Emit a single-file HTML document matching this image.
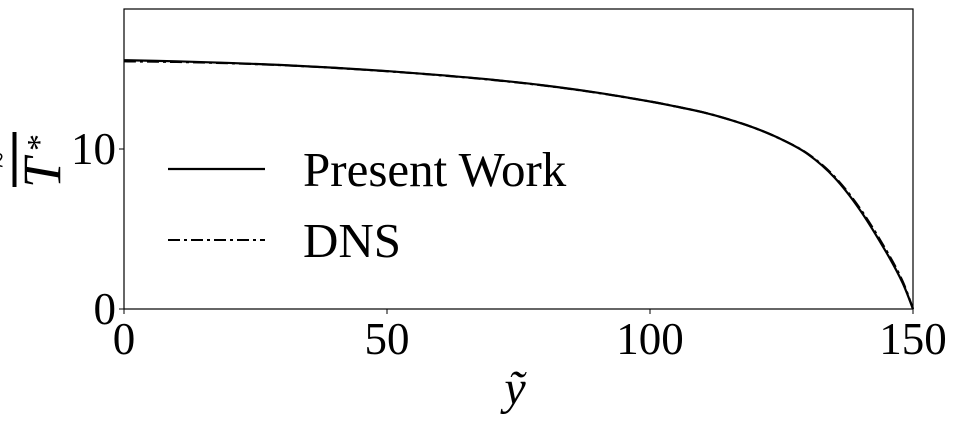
<!DOCTYPE html>
<html><head><meta charset="utf-8"><style>
body{margin:0;background:#fff;}
svg text{font-family:"Liberation Serif",serif;fill:#000;}
</style></head><body>
<svg width="954" height="417" id="c">
<rect x="124" y="9" width="789" height="300" fill="none" stroke="#000" stroke-width="1.2"/>
<g id="ticks"></g>
<g id="series"></g>
<text x="515" y="404" font-size="48" font-style="italic" text-anchor="middle">ỹ</text>
<g transform="translate(38,162) rotate(-90)">
<line x1="-25" y1="-23.5" x2="30" y2="-23.5" stroke="#000" stroke-width="4"/>
<text x="-6" y="-28" font-size="30">~</text>
<text x="-26" y="22" font-size="54" font-style="italic">T</text>
<text x="11" y="12" font-size="34">*</text>
</g>
<g>
<line x1="168" y1="169" x2="265" y2="169" stroke="#000" stroke-width="2.2"/>
<text x="303" y="186" font-size="49">Present Work</text>
<line x1="168" y1="240" x2="265" y2="240" stroke="#000" stroke-width="2" stroke-dasharray="12,4,3,4"/>
<text x="303" y="257" font-size="49">DNS</text>
</g>
</svg>
<script>
const xTicks=[0,50,100,150];
const yTicks=[0,10];
const yPos=[0,10,20,30,40,50,60,70,80,90,100,105,110,115,120,125,130,135,140,145,148,150];
const presentT=[15.55,15.48,15.38,15.25,15.08,14.87,14.62,14.33,13.97,13.52,12.97,12.65,12.3,11.85,11.3,10.6,9.68,8.24,6.15,3.5,1.65,0];
const dnsT=[15.48,15.44,15.36,15.24,15.07,14.86,14.61,14.32,13.96,13.51,12.97,12.65,12.3,11.85,11.3,10.6,9.7,8.3,6.25,3.62,1.75,0];
const X=v=>124+v*(789/150);
const Y=v=>309-v*16;
const NS="http://www.w3.org/2000/svg";
const tg=document.getElementById('ticks');
xTicks.forEach(t=>{
 const l=document.createElementNS(NS,'line');
 l.setAttribute('x1',X(t));l.setAttribute('x2',X(t));l.setAttribute('y1',309);l.setAttribute('y2',314);l.setAttribute('stroke','#000');
 
 
 tg.appendChild(l);
 const tx=document.createElementNS(NS,'text');
 tx.setAttribute('x',X(t));tx.setAttribute('y',354);tx.setAttribute('font-size','45');tx.setAttribute('text-anchor','middle');
 tx.textContent=t;
 
 
 tg.appendChild(tx);
});
yTicks.forEach(t=>{
 const l=document.createElementNS(NS,'line');
 l.setAttribute('x1',119);l.setAttribute('x2',124);l.setAttribute('y1',Y(t));l.setAttribute('y2',Y(t));l.setAttribute('stroke','#000');
 
 
 tg.appendChild(l);
 const tx=document.createElementNS(NS,'text');
 tx.setAttribute('x',116);tx.setAttribute('y',Y(t)+15);tx.setAttribute('font-size','45');tx.setAttribute('text-anchor','end');
 tx.textContent=t;
 
 
 tg.appendChild(tx);
});
const sg=document.getElementById('series');
function smooth(vals){
 const P=vals.map((v,i)=>[X(yPos[i]),Y(v)]);
 let d='M'+P[0][0]+','+P[0][1];
 for(let i=0;i<P.length-1;i++){
  const p0=P[Math.max(0,i-1)],p1=P[i],p2=P[i+1],p3=P[Math.min(P.length-1,i+2)];
  const c1=[p1[0]+(p2[0]-p0[0])/6,p1[1]+(p2[1]-p0[1])/6];
  const c2=[p2[0]-(p3[0]-p1[0])/6,p2[1]-(p3[1]-p1[1])/6];
  d+='C'+c1+' '+c2+' '+p2;
 }
 return d;
}
function path(vals,dash,name){
 const p=document.createElementNS(NS,'path');
 p.setAttribute('d',smooth(vals));
 p.setAttribute('fill','none');p.setAttribute('stroke','#000');p.setAttribute('stroke-width','2.2');
 if(dash)p.setAttribute('stroke-dasharray',dash);
 
 
 sg.appendChild(p);
}
path(dnsT,'12,4,3,4','dns-line');
path(presentT,null,'present-work-line');
</script>
</body></html>
